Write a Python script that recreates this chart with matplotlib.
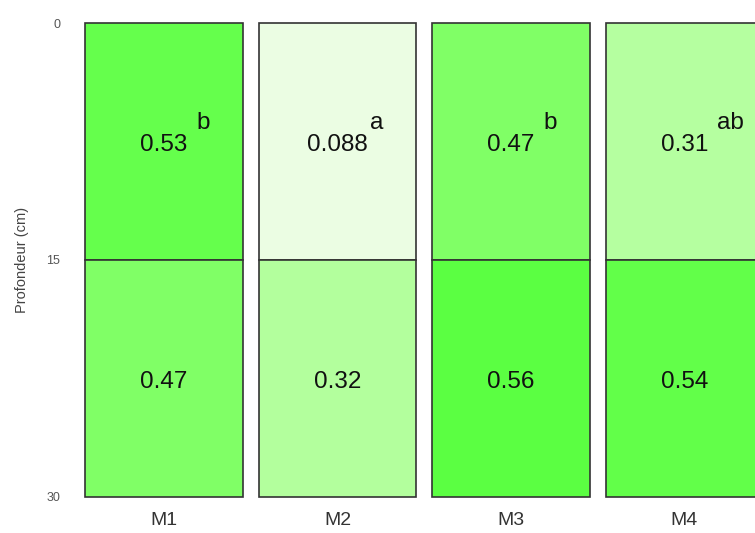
import matplotlib.pyplot as plt
import numpy as np
from matplotlib.colors import LinearSegmentedColormap

# Data
modalites = ["M1", "M2", "M3", "M4"]
couches_haut = [0, 15]          # top of each layer (cm)
epaisseur = 15                  # thickness of each layer (cm)
valeurs_0_15 = [0.53, 0.088, 0.47, 0.31]
valeurs_15_30 = [0.47, 0.32, 0.56, 0.54]
lettres = ["b", "a", "b", "ab"]
y_ticks = [0, 15, 30]

# Colour scale: pale green to bright green
cmap = LinearSegmentedColormap.from_list(
    "vert",
    [(0.0, "#f4fff0"), (0.088 / 0.6, "#ebfde3"), (0.32 / 0.6, "#b3ff9d"),
     (0.47 / 0.6, "#80ff66"), (0.53 / 0.6, "#66ff4d"), (1.0, "#4dff33")])
vmin, vmax = 0.0, 0.6

plt.rcParams['font.family'] = ['Liberation Sans', 'DejaVu Sans']

fig = plt.figure(figsize=(7.55, 5.33), dpi=100)
ax = fig.add_axes([85 / 755, 1 - 497 / 533, 1 - 85 / 755, 474 / 533])

x = np.arange(len(modalites))
largeur = 0.91

for i, vals in enumerate([valeurs_0_15, valeurs_15_30]):
    couleurs = [cmap((v - vmin) / (vmax - vmin)) for v in vals]
    bars = ax.bar(x, epaisseur, bottom=couches_haut[i], width=largeur,
                  color=couleurs, edgecolor="#333333", linewidth=1.2)
    for b in bars:
        b.set_clip_on(False)
    for xi, v in zip(x, vals):
        ax.text(xi, couches_haut[i] + 7.7, f"{v:g}", ha="center", va="center",
                fontsize=17.5, color="#111111")

for xi, l in zip(x, lettres):
    ax.text(xi + 0.19, 6.35, l, ha="left", va="center", fontsize=17.5, color="#111111")

ax.set_xlim(-largeur / 2, (755 - 164) / 173.5)
ax.set_ylim(30, 0)
ax.set_xticks(x)
ax.set_xticklabels(modalites, fontsize=14, color="#333333")
ax.set_yticks(y_ticks)
ax.set_yticklabels([str(t) for t in y_ticks], fontsize=9, color="#555555")
ax.tick_params(length=0)
ax.tick_params(axis="x", pad=11)
ax.tick_params(axis="y", pad=18)
ax.set_ylabel("Profondeur (cm)", fontsize=10.5, color="#444444", labelpad=12)
for s in ax.spines.values():
    s.set_visible(False)

plt.savefig("out.png", dpi=100)
